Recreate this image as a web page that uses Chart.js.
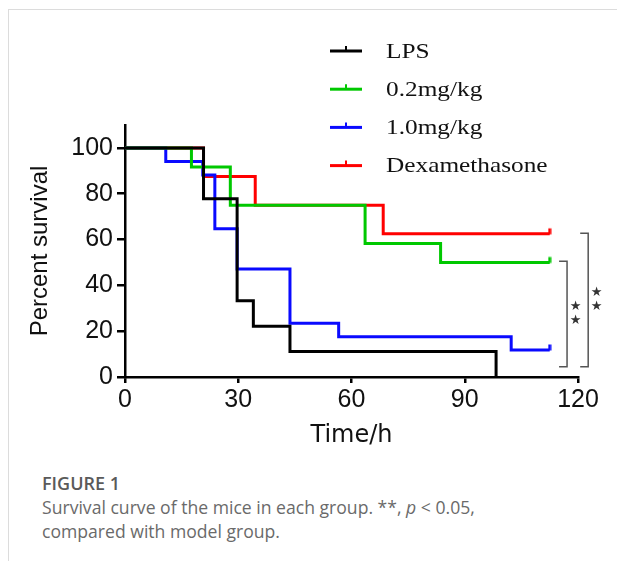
<!DOCTYPE html>
<html>
<head>
<meta charset="utf-8">
<script src="https://cdn.jsdelivr.net/npm/chart.js@4.4.1/dist/chart.umd.min.js"></script>
<style>
  html, body { margin: 0; padding: 0; background: #fff; }
  body { width: 617px; height: 561px; position: relative; overflow: hidden; }
  #frame { position: absolute; left: 8px; top: 9px; right: 0; bottom: 0;
           border-top: 1px solid #dcdcdc; border-left: 1px solid #dcdcdc; }
  #wrap { position: absolute; left: 0; top: 0; width: 617px; height: 460px; }
  #caption { position: absolute; left: 42px; top: 471px; font-family: "Open Sans", sans-serif;
             color: #6a6a6a; font-size: 17.6px; line-height: 24px; }
  #caption .fig { font-weight: 600; color: #5a5a5a; font-size: 18px; }
</style>
</head>
<body>
<div id="frame"></div>
<div id="wrap"><canvas id="my-chart" width="617" height="460"></canvas></div>
<div id="caption">
  <div class="fig">FIGURE 1</div>
  <div>Survival curve of the mice in each group. **, <i>p</i> &lt; 0.05,</div>
  <div>compared with model group.</div>
</div>
<script>
// group names and colours
const groups = ["LPS", "0.2mg/kg", "1.0mg/kg", "Dexamethasone"];
const colors = ["#000000", "#00c800", "#0a0aff", "#ff0000"];

// Kaplan-Meier steps (time in h, percent survival)
const lpsTime = [0, 20.8, 29.7, 34, 43.7, 98.3];
const lpsSurv = [100, 77.8, 33.3, 22.2, 11.1, 0];

const lowTime = [0, 17.6, 27.9, 63.6, 83.6, 112.5];
const lowSurv = [100, 91.7, 75, 58.3, 50, 50];

const highTime = [0, 10.8, 20.6, 23.8, 29.7, 43.7, 56.6, 102.3, 112.5];
const highSurv = [100, 94.1, 88.2, 64.7, 47.1, 23.5, 17.6, 11.8, 11.8];

const dexTime = [0, 20.8, 34.5, 68.4, 112.5];
const dexSurv = [100, 87.5, 75, 62.5, 62.5];

// does the curve end with a censor mark
const censored = [false, true, true, true];

const xTicks = [0, 30, 60, 90, 120];
const yTicks = [0, 20, 40, 60, 80, 100];

// significance brackets: top / bottom in percent, x in hours
const sigBrackets = [
  { x: 117.1, top: 50.5, bottom: 4.5, text: "★" },
  { x: 122.7, top: 62.8, bottom: 4.5, text: "★" }
];

function toPoints(t, s) {
  return t.map((v, i) => ({ x: v, y: s[i] }));
}

// small tick drawn above the end of a curve
function censorMark(color) {
  const c = document.createElement("canvas");
  c.width = 4;
  c.height = 14;
  const g = c.getContext("2d");
  g.fillStyle = color;
  g.fillRect(0.5, 1.5, 3, 6);
  return c;
}

const series = [
  toPoints(lpsTime, lpsSurv),
  toPoints(lowTime, lowSurv),
  toPoints(highTime, highSurv),
  toPoints(dexTime, dexSurv)
];

const datasets = groups.map((name, i) => {
  const mark = censorMark(colors[i]);
  return {
    label: name,
    data: series[i],
    borderColor: colors[i],
    backgroundColor: colors[i],
    borderWidth: 3,
    stepped: true,
    fill: false,
    pointStyle: mark,
    pointRadius: ctx => (censored[i] && ctx.dataIndex === series[i].length - 1) ? 3 : 0,
    pointHoverRadius: 0
  };
});

const sideLegend = {
  id: "sideLegend",
  afterDraw(chart) {
    const ctx = chart.ctx;
    chart.data.datasets.forEach((ds, i) => {
      const y = 51 + i * 38.2;
      ctx.save();
      ctx.strokeStyle = ds.borderColor;
      ctx.lineWidth = 3;
      ctx.beginPath();
      ctx.moveTo(330, y);
      ctx.lineTo(362, y);
      ctx.stroke();
      ctx.lineWidth = 2;
      ctx.beginPath();
      ctx.moveTo(346, y);
      ctx.lineTo(346, y - 5);
      ctx.stroke();
      ctx.fillStyle = "#111";
      ctx.font = '22px "Liberation Serif"';
      ctx.textBaseline = "middle";
      ctx.translate(386, y + 1);
      ctx.scale(1.15, 1);
      ctx.fillText(ds.label, 0, 0);
      ctx.restore();
    });
  }
};

const brackets = {
  id: "brackets",
  afterDraw(chart) {
    const ctx = chart.ctx;
    const xs = chart.scales.x;
    const ys = chart.scales.y;
    sigBrackets.forEach(b => {
      const x = xs.getPixelForValue(b.x);
      const top = ys.getPixelForValue(b.top);
      const bottom = ys.getPixelForValue(b.bottom);
      ctx.save();
      ctx.strokeStyle = "#555";
      ctx.lineWidth = 1.5;
      ctx.beginPath();
      ctx.moveTo(x - 8, top);
      ctx.lineTo(x, top);
      ctx.lineTo(x, bottom);
      ctx.lineTo(x - 8, bottom);
      ctx.stroke();
      const mid = (top + bottom) / 2;
      ctx.fillStyle = "#333";
      ctx.font = '13px "DejaVu Sans"';
      ctx.textAlign = "center";
      ctx.textBaseline = "middle";
      ctx.fillText(b.text, x + 8.5, mid - 7);
      ctx.fillText(b.text, x + 8.5, mid + 7);
      ctx.restore();
    });
  }
};

const ctx = document.getElementById("my-chart").getContext("2d");

const myChart = new Chart(ctx, {
  type: "line",
  data: { datasets },
  options: {
    responsive: false,
    animation: false,
    layout: { padding: { left: 0, top: 125, right: 39, bottom: 0 } },
    plugins: { legend: { display: false }, tooltip: { enabled: false } },
    scales: {
      x: {
        type: "linear",
        min: 0,
        max: 120,
        afterBuildTicks: axis => { axis.ticks = xTicks.map(v => ({ value: v })); },
        afterFit: axis => { axis.height = 83; },
        border: { display: true, color: "#000", width: 2.5 },
        grid: { drawOnChartArea: false, drawTicks: true, tickLength: 6, color: "#000", lineWidth: 2.5 },
        ticks: { color: "#111", padding: 2, font: { family: "Liberation Sans", size: 25 } },
        title: {
          display: true,
          text: "Time/h",
          color: "#111",
          font: { family: "DejaVu Sans", size: 24 },
          padding: { top: 0, bottom: 10 }
        }
      },
      y: {
        type: "linear",
        min: 0,
        max: 110,
        afterBuildTicks: axis => { axis.ticks = yTicks.map(v => ({ value: v })); },
        afterFit: axis => { axis.width = 125; },
        border: { display: true, color: "#000", width: 2.5 },
        grid: { drawOnChartArea: false, drawTicks: true, tickLength: 8, color: "#000", lineWidth: 2.5 },
        ticks: { color: "#111", padding: 4, font: { family: "Liberation Sans", size: 25 } },
        title: {
          display: true,
          text: "Percent survival",
          color: "#111",
          font: { family: "Liberation Sans", size: 24 },
          padding: { top: 26, bottom: 0 }
        }
      }
    }
  },
  plugins: [sideLegend, brackets]
});
</script>
</body>
</html>
